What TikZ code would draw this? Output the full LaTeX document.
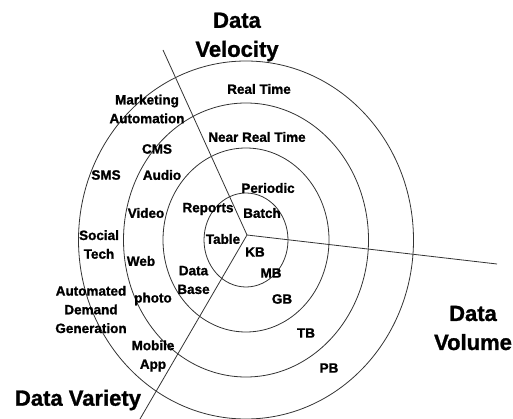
\documentclass[tikz,border=0pt]{standalone}
\usepackage{fontspec}
\setmainfont{Liberation Sans}
% slightly heavier bold face for the labels
\newfontfamily\heavyfont{Liberation Sans}[UprightFont=*-Bold,FakeBold=1.2]
\begin{document}
\begin{tikzpicture}[x=1pt,y=-1pt,
  ring/.style={draw=black!80,line width=0.8pt},
  axisline/.style={draw=black!80,line width=0.8pt},
  lbl/.style={font=\heavyfont\fontsize{13.5}{18.7}\selectfont,align=center,inner sep=0pt},
  title/.style={font=\heavyfont\fontsize{22}{29}\selectfont,align=center,inner sep=0pt}]
\useasboundingbox (0,0) rectangle (513,419);

% concentric rings
\coordinate (c) at (246,240);
\draw[ring] (c) ellipse [x radius=42pt, y radius=47pt];
\draw[ring] (c) ellipse [x radius=83pt, y radius=92pt];
\draw[ring] (c) ellipse [x radius=122.5pt, y radius=137pt];
\draw[ring] (c) ellipse [x radius=167.5pt, y radius=179pt];

% three axes from the hub
\coordinate (hub) at (247,235);
\coordinate (velEnd) at (163,50);
\coordinate (volEnd) at (497,264);
\coordinate (varEnd) at (140,419);
\draw[axisline] (hub) -- (velEnd);
\draw[axisline] (hub) -- (volEnd);
\draw[axisline] (hub) -- (varEnd);

% axis titles
\node[title] (tVel) at (237,37) {Data\\Velocity};
\node[title] (tVol) at (473,328) {Data\\Volume};
\node[title] (tVar) at (78,400) {Data Variety};

% velocity
\node[lbl] (realtime) at (259,89) {Real Time};
\node[lbl] (nearrt) at (257,137) {Near Real Time};
\node[lbl] (periodic) at (268,188) {Periodic};
\node[lbl] (batch) at (262,213) {Batch};

% volume
\node[lbl] (kb) at (255,252) {KB};
\node[lbl] (mb) at (271,273) {MB};
\node[lbl] (gb) at (282,299) {GB};
\node[lbl] (tb) at (306,333) {TB};
\node[lbl] (pb) at (329,368) {PB};

% variety
\node[lbl] (table) at (223,239) {Table};
\node[lbl] (reports) at (208,209) {Reports};
\node[lbl] (database) at (193.5,280) {Data\\Base};
\node[lbl] (video) at (146,213) {Video};
\node[lbl] (audio) at (162,175) {Audio};
\node[lbl] (cms) at (157,149) {CMS};
\node[lbl] (web) at (141,261) {Web};
\node[lbl] (photo) at (153,299) {photo};
\node[lbl] (mobile) at (153,356) {Mobile\\App};
\node[lbl] (mkt) at (147,109) {Marketing\\Automation};
\node[lbl] (sms) at (106,175) {SMS};
\node[lbl] (social) at (99,244.5) {Social\\Tech};
\node[lbl] (adg) at (91,309.5) {Automated\\Demand\\Generation};
\end{tikzpicture}
\end{document}
